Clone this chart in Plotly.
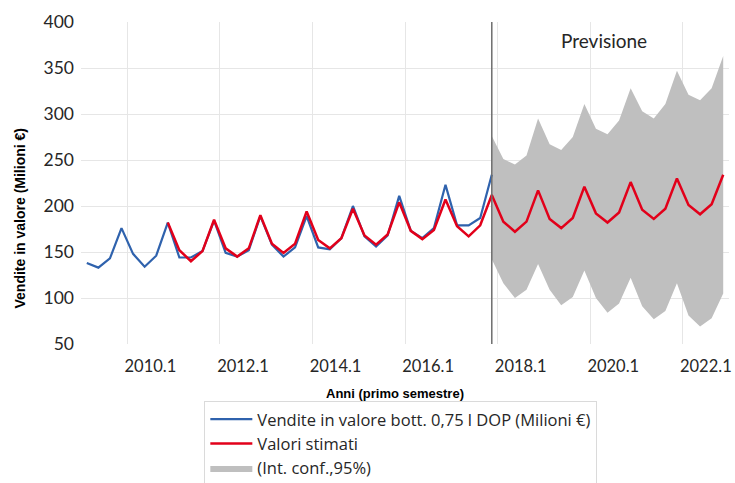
import plotly.graph_objects as go

# Quarter categories 2009.1 ... 2022.4
years = list(range(2009, 2023))
quarters = [f"{y}.{q}" for y in years for q in range(1, 5)]

# Observed sales (2009.1 - 2017.4)
obs_start = "2009.1"
sales = [138, 133, 143, 176, 148, 134, 146, 182, 144, 144, 151, 184,
         149, 145, 152, 189, 158, 145, 155, 189, 155, 153, 165, 200,
         167, 156, 168, 211, 173, 165, 176, 223, 179, 179, 187, 234]

# Fitted / forecast values (2010.4 - 2022.4)
fit_start = "2010.4"
fitted = [182, 152, 140, 151, 185, 154, 145, 154, 190, 159, 149, 159,
          194, 163, 154, 165, 197, 168, 158, 169, 204, 173, 164, 174,
          207, 178, 167, 179, 212, 183, 172, 183, 217, 186, 176, 187,
          221, 192, 182, 193, 226, 196, 186, 197, 230, 201, 191, 202, 234]

# 95% confidence interval (2017.4 - 2022.4)
ci_start = "2017.4"
ci_upper = [276, 251, 245, 255, 295, 267, 261, 275, 311, 284, 278, 293,
            328, 303, 295, 311, 347, 321, 315, 328, 363]
ci_lower = [142, 116, 100, 109, 137, 109, 92, 101, 130, 100, 84, 94,
            122, 91, 77, 86, 116, 81, 69, 78, 105]

tick_labels = ["2010.1", "2012.1", "2014.1", "2016.1", "2018.1", "2020.1", "2022.1"]

def xs(start, n):
    i0 = quarters.index(start)
    return list(range(i0, i0 + n))

x_sales = xs(obs_start, len(sales))
x_fit = xs(fit_start, len(fitted))
x_ci = xs(ci_start, len(ci_upper))

label_pos = [quarters.index(t) + 1.5 for t in tick_labels]
grid_pos = [quarters.index(t) - 0.5 for t in tick_labels]

BLUE = "#2F62AD"
RED = "#E2001A"
GRAY = "#BFBFBF"
FONT = "Lato"

fig = go.Figure()
fig.add_trace(go.Scatter(x=x_ci, y=ci_lower, mode="lines", line=dict(width=0, color=GRAY),
                         showlegend=False, hoverinfo="skip"))
fig.add_trace(go.Scatter(x=x_ci, y=ci_upper, mode="lines", line=dict(width=0, color=GRAY),
                         fill="tonexty", fillcolor=GRAY, name="(Int. conf.,95%)", legendrank=3))
fig.add_trace(go.Scatter(x=x_sales, y=sales, mode="lines", line=dict(color=BLUE, width=2.2),
                         name="Vendite in valore bott. 0,75 l DOP (Milioni €)", legendrank=1))
fig.add_trace(go.Scatter(x=x_fit, y=fitted, mode="lines", line=dict(color=RED, width=2.5),
                         name="Valori stimati", legendrank=2))

fig.add_shape(type="line", xref="x", yref="paper", x0=x_sales[-1], x1=x_sales[-1], y0=0, y1=1,
              line=dict(color="#6E6E6E", width=1.5), layer="above")

fig.update_layout(
    width=735, height=483,
    margin=dict(l=81, r=6, t=22, b=139, autoexpand=False),
    paper_bgcolor="white", plot_bgcolor="white",
    font=dict(family=FONT, color="#262626"),
    xaxis=dict(range=[-0.5, len(quarters) - 0.5], tickmode="array", tickvals=label_pos,
               ticktext=tick_labels, showgrid=False, zeroline=False, showline=False,
               automargin=False,
               tickfont=dict(family=FONT, size=16.5, color="#262626"), ticklabelstandoff=10,
               minor=dict(tickmode="array", tickvals=grid_pos, showgrid=True,
                          gridcolor="#E6E6E6", gridwidth=1)),
    yaxis=dict(range=[50, 400], dtick=50, tick0=50, showgrid=True, gridcolor="#E6E6E6",
               zeroline=False, showline=False, automargin=False,
               tickfont=dict(family=FONT, size=17.5, color="#262626"), ticklabelstandoff=6),
    legend=dict(xref="container", yref="container", x=0.278, y=0.17,
                xanchor="left", yanchor="top", orientation="v", itemwidth=42,
                bordercolor="#DADADA", borderwidth=1, bgcolor="white",
                font=dict(family="Open Sans", size=16.5, color="#262626"), traceorder="normal"),
    showlegend=True,
)

fig.add_annotation(text="Previsione", xref="paper", yref="paper", x=0.807, y=0.944,
                   xanchor="center", yanchor="middle",
                   showarrow=False, font=dict(family=FONT, size=19, color="#262626"))
fig.add_annotation(text="<b>Anni (primo semestre)</b>", xref="paper", yref="paper",
                   x=0.485, y=-0.155, xanchor="center", yanchor="middle", showarrow=False,
                   font=dict(family="Liberation Sans", size=13, color="#000000"))
fig.add_annotation(text="<b>Vendite in valore (Milioni €)</b>", xref="paper", yref="paper",
                   x=-0.094, y=0.39, xanchor="center", yanchor="middle",
                   textangle=-90, showarrow=False,
                   font=dict(family="Liberation Sans", size=14, color="#000000"))

fig.write_html("out.html", config={"displayModeBar": False},
               post_script="document.body.style.margin='0';")
